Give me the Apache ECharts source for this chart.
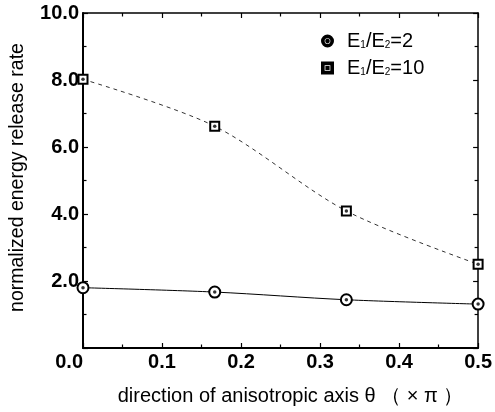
<!DOCTYPE html>
<html>
<head>
<meta charset="utf-8">
<script src="https://cdn.jsdelivr.net/npm/echarts@6/dist/echarts.min.js"></script>
<style>
html, body { margin: 0; padding: 0; background: #fff; }
#chart { width: 495px; height: 412px; }
</style>
</head>
<body>
<div id="chart"></div>
<script>
// theta in units of pi
var theta = [0.0, 0.1667, 0.3333, 0.5];
var ratio2 = [1.80, 1.67, 1.44, 1.31];
var ratio10 = [8.02, 6.62, 4.09, 2.50];
var xTicks = [0, 0.5, 0.1];
var yTicks = [0, 10, 2];
var names = ["E1/E2=2", "E1/E2=10"];

function pairs(xs, ys) {
    var out = [];
    for (var i = 0; i < xs.length; i++) out.push([xs[i], ys[i]]);
    return out;
}

var font = "'Liberation Sans', Arial, sans-serif";
var circleIcon = "path://M5,0 A5,5 0 1,1 5,10 A5,5 0 1,1 5,0 Z M5,1.5 A3.5,3.5 0 1,0 5,8.5 A3.5,3.5 0 1,0 5,1.5 Z M5,3.8 A1.2,1.2 0 1,1 5,6.2 A1.2,1.2 0 1,1 5,3.8 Z";
var squareIcon = "path://M0,0 H10 V10 H0 Z M1.5,1.5 V8.5 H8.5 V1.5 Z M4,4 H6 V6 H4 Z";

function frameAxis(extra) {
    var base = {
        type: "value",
        axisLine: { show: true, onZero: false, lineStyle: { color: "#000", width: 1.5 } },
        axisTick: { show: true, inside: true, length: 5, lineStyle: { color: "#000", width: 1.2 } },
        minorTick: { show: true, splitNumber: 2, length: 3.5, lineStyle: { color: "#000", width: 1.2 } },
        splitLine: { show: false },
        axisLabel: { show: false }
    };
    return Object.assign(base, extra);
}

var chart = echarts.init(document.getElementById("chart"));
chart.setOption({
    animation: false,
    grid: { left: 80, right: 15, top: 13, bottom: 64 },
    legend: {
        orient: "vertical",
        left: 316,
        top: 26,
        itemWidth: 11,
        itemHeight: 11,
        itemGap: 7,
        selectedMode: false,
        data: [
            { name: names[0], icon: circleIcon },
            { name: names[1], icon: squareIcon }
        ],
        formatter: function (n) {
            var p = n.split("=");
            return "{n|E}{s|1}{n|/E}{s|2}{n|=" + p[1] + "}";
        },
        textStyle: {
            padding: [0, 0, 0, 9],
            rich: {
                n: { fontFamily: font, fontSize: 20, color: "#000" },
                s: { fontFamily: font, fontSize: 10, color: "#000", padding: [9, 0, 0, 0] }
            }
        }
    },
    xAxis: [
        frameAxis({
            min: xTicks[0], max: xTicks[1], interval: xTicks[2],
            position: "bottom",
            axisLine: { show: true, onZero: false, lineStyle: { color: "#000", width: 2 } },
            axisLabel: {
                show: true, margin: 4, color: "#000",
                fontFamily: font, fontSize: 20, fontWeight: "bold",
                alignMinLabel: "right",
                formatter: function (v) { return v.toFixed(1); }
            },
            name: "direction of anisotropic axis θ （ × π ）",
            nameLocation: "middle",
            nameGap: 38,
            nameTextStyle: { color: "#000", fontFamily: font, fontSize: 20, padding: [0, 0, 0, 20] }
        }),
        frameAxis({ min: xTicks[0], max: xTicks[1], interval: xTicks[2], position: "top" })
    ],
    yAxis: [
        frameAxis({
            min: yTicks[0], max: yTicks[1], interval: yTicks[2],
            position: "left",
            axisLine: { show: true, onZero: false, lineStyle: { color: "#000", width: 2 } },
            axisLabel: {
                show: true, margin: 4, color: "#000",
                fontFamily: font, fontSize: 20, fontWeight: "bold",
                formatter: function (v) { return v === 0 ? "" : v.toFixed(1); }
            },
            name: "normalized energy release rate",
            nameLocation: "middle",
            nameGap: 55,
            nameTextStyle: { color: "#000", fontFamily: font, fontSize: 19.5, padding: [0, 0, 0, 6] }
        }),
        frameAxis({ min: yTicks[0], max: yTicks[1], interval: yTicks[2], position: "right" })
    ],
    series: [
        {
            name: names[0], type: "line", smooth: 0.3,
            data: pairs(theta, ratio2),
            symbol: "emptyCircle", symbolSize: 11,
            itemStyle: { color: "#000", borderColor: "#000", borderWidth: 1.5 },
            lineStyle: { color: "#000", width: 1 }
        },
        {
            name: names[1], type: "line", smooth: 0.3,
            data: pairs(theta, ratio10),
            symbol: "emptyRect", symbolSize: 9,
            itemStyle: { color: "#000", borderColor: "#000", borderWidth: 1.5 },
            lineStyle: { color: "#333", width: 1, type: [4, 4] }
        },
        {
            type: "scatter", silent: true, z: 10,
            data: pairs(theta, ratio2),
            symbol: "circle", symbolSize: 3.5,
            itemStyle: { color: "#000" }
        },
        {
            type: "scatter", silent: true, z: 10,
            data: pairs(theta, ratio10),
            symbol: "circle", symbolSize: 3.5,
            itemStyle: { color: "#000" }
        }
    ]
});
</script>
</body>
</html>
